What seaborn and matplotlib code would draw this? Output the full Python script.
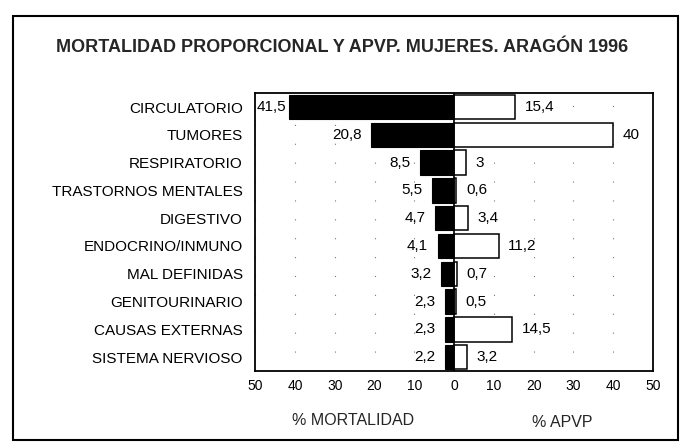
import numpy as np
import pandas as pd
import matplotlib
matplotlib.use("Agg")
import matplotlib.pyplot as plt
from matplotlib.patches import Rectangle
import seaborn as sns

categories = ["CIRCULATORIO", "TUMORES", "RESPIRATORIO", "TRASTORNOS MENTALES",
              "DIGESTIVO", "ENDOCRINO/INMUNO", "MAL DEFINIDAS", "GENITOURINARIO",
              "CAUSAS EXTERNAS", "SISTEMA NERVIOSO"]
mortalidad = [41.5, 20.8, 8.5, 5.5, 4.7, 4.1, 3.2, 2.3, 2.3, 2.2]
apvp = [15.4, 40, 3, 0.6, 3.4, 11.2, 0.7, 0.5, 14.5, 3.2]
tick_values = [-50, -40, -30, -20, -10, 0, 10, 20, 30, 40, 50]
tick_labels = ["50", "40", "30", "20", "10", "0", "10", "20", "30", "40", "50"]

sns.set_theme(style="white")
plt.rcParams["font.family"] = ["Liberation Sans", "DejaVu Sans"]

df = pd.DataFrame({"cat": categories,
                   "mort": [-v for v in mortalidad],
                   "apvp": apvp})

fig = plt.figure(figsize=(6.88, 4.48), dpi=100)
ax = fig.add_axes([0.371, 0.172, 0.578, 0.620])

sns.barplot(data=df, x="mort", y="cat", color="black", saturation=1,
            width=0.88, edgecolor="black", linewidth=0.8, ax=ax)
sns.barplot(data=df, x="apvp", y="cat", color="white", saturation=1,
            width=0.88, edgecolor="black", linewidth=1.1, ax=ax)

ax.set_xlim(-50, 50)
ax.set_ylim(len(categories) - 0.5, -0.5)
ax.set_xticks(tick_values)
ax.set_xticklabels(tick_labels, fontsize=10)
ax.tick_params(axis="x", length=0, pad=6, colors="black")
ax.tick_params(axis="y", length=0, labelsize=11, pad=9, colors="black")
ax.set_xlabel("")
ax.set_ylabel("")
ax.axvline(0, color="black", lw=1.2, zorder=5)
ax.grid(axis="x", linestyle=(0, (1, 16)), color="#777777", lw=0.8)
ax.set_axisbelow(True)
for s in ax.spines.values():
    s.set_color("black")
    s.set_linewidth(1.3)
    s.set_visible(True)

def fmt(v):
    return ("%g" % v).replace(".", ",")

for i, (m, a) in enumerate(zip(mortalidad, apvp)):
    off = -2 if m > 40 else -7
    ax.annotate(fmt(m), xy=(-m, i), xytext=(off, 0), textcoords="offset points",
                ha="right", va="center", fontsize=11, color="black")
    ax.annotate(fmt(a), xy=(a, i), xytext=(7, 0), textcoords="offset points",
                ha="left", va="center", fontsize=11, color="black")

fig.text(0.497, 0.893, "MORTALIDAD PROPORCIONAL Y APVP. MUJERES. ARAGÓN 1996",
         ha="center", va="center", fontsize=13, fontweight="bold")
fig.text(0.513, 0.0625, "% MORTALIDAD", ha="center", va="center", fontsize=11.5)
fig.text(0.817, 0.058, "% APVP", ha="center", va="center", fontsize=11.5)

fig.add_artist(Rectangle((0.019, 0.018), 0.966, 0.946, transform=fig.transFigure,
                         fill=False, edgecolor="black", lw=1.5))

fig.savefig("out.png", dpi=100)
